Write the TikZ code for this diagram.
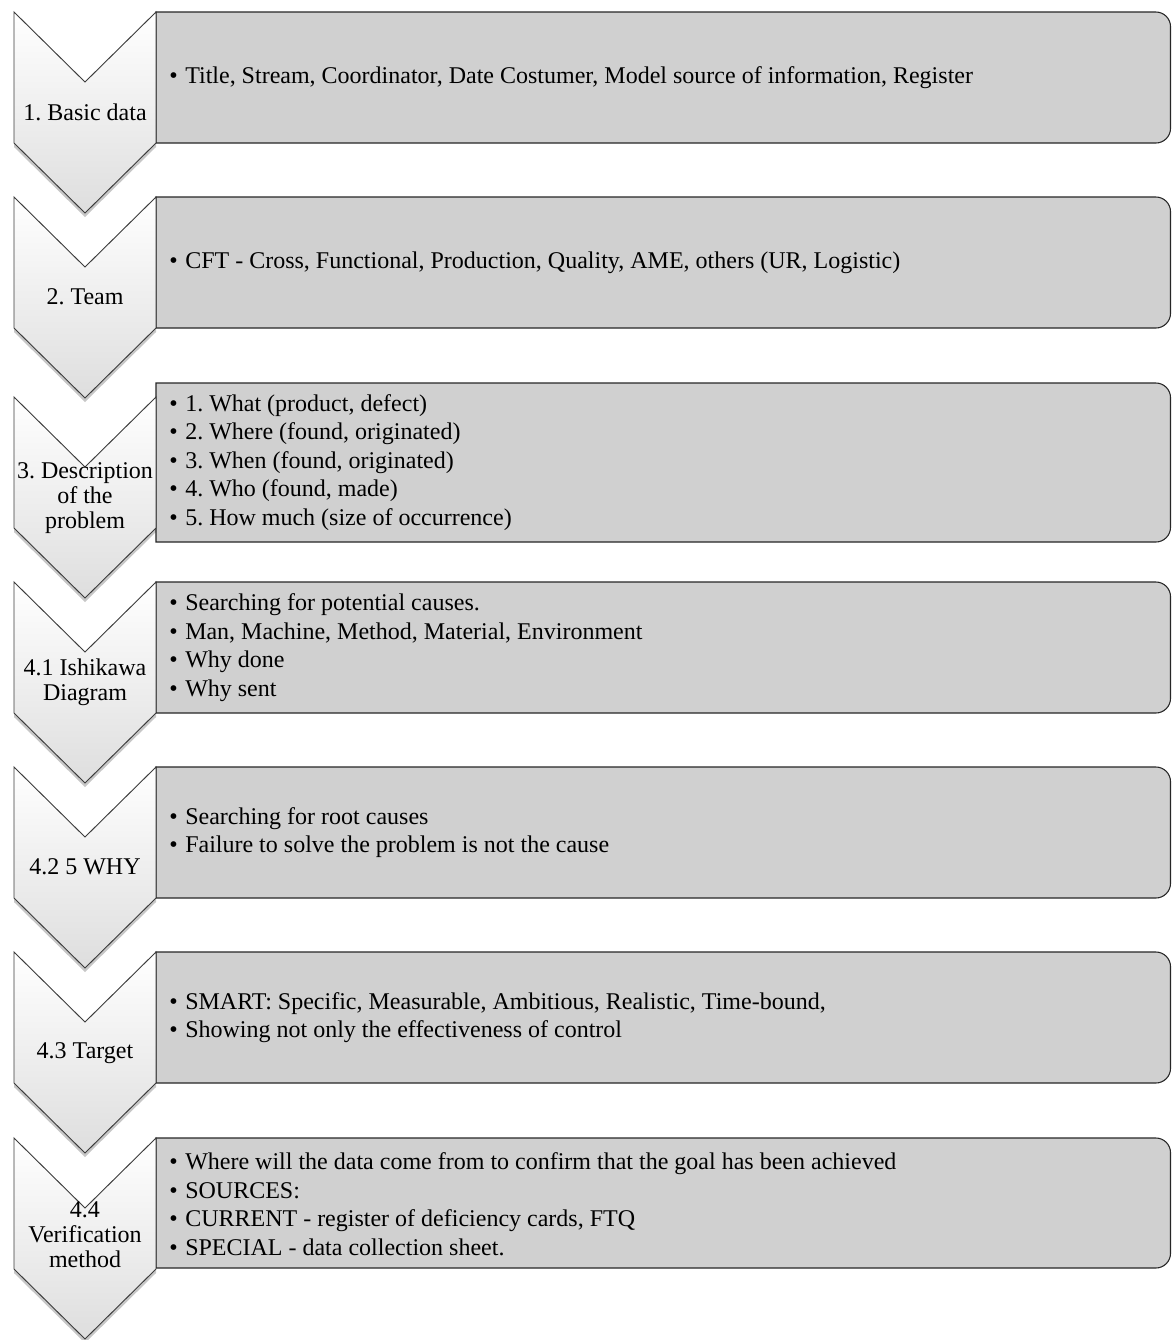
\documentclass[tikz,border=0pt]{standalone}
\usepackage{fontspec}
\setmainfont{Liberation Serif}
\usepackage{tikz}
\usetikzlibrary{positioning,shadows}
\definecolor{boxgray}{RGB}{208,208,208}
\definecolor{edgegray}{RGB}{60,60,60}
\newcommand{\boxfont}{\fontsize{18pt}{21.4pt}\selectfont}
\newcommand{\labfont}{\fontsize{18pt}{18.8pt}\selectfont}
\newcommand{\bitem}{\makebox[12pt][l]{\textbullet}}
\frenchspacing
\tikzset{
  chevron/.style={draw=edgegray, line width=0.7pt, top color=white,
                  bottom color=black!13,
                  drop shadow={shadow xshift=0pt, shadow yshift=-3pt,
                               opacity=.22, fill=black}},
  infobox/.style={draw=black!85, line width=0.8pt, fill=boxgray},
  steplabel/.style={align=center, inner sep=0pt, font=\labfont},
  bullets/.style={anchor=west, align=left, inner sep=0pt, font=\boxfont},
}

\begin{document}
\begin{tikzpicture}[x=0.75pt, y=-0.75pt]
  \useasboundingbox (0,0) rectangle (1172,1340);
  % boxes first, chevrons over them
  \foreach \n/\ct/\bt/\bb in {1/12/12/143, 2/197/197/328, 3/397/383/542,
      4/582/582/713, 5/767/767/898, 6/952/952/1083, 7/1138/1138/1268} {
    \draw[infobox] (156,\bt) [rounded corners=11pt] -- (1170.5,\bt)
      -- (1170.5,\bb) [sharp corners] -- (156,\bb) -- cycle;
    \draw[chevron] (14,\ct) -- (85,{\ct+70}) -- (156,\ct) -- (156,{\ct+131})
      -- (85,{\ct+201}) -- (14,{\ct+131}) -- cycle;
  }
  % step names
  \node[steplabel] (lab1) at (85,112) {1. Basic data};
  \node[steplabel] (lab2) at (85,297) {2. Team};
  \node[steplabel] (lab3) at (85,498) {3. Description\\of the\\problem};
  \node[steplabel] (lab4) at (85,682) {4.1 Ishikawa\\Diagram};
  \node[steplabel] (lab5) at (85,867) {4.2 5 WHY};
  \node[steplabel] (lab6) at (85,1053) {4.3 Target};
  \node[steplabel] (lab7) at (85,1235) {4.4\\Verification\\method};
  % bullet texts
  \node[bullets] (txt1) at (169,77.5)
    {\bitem Title, Stream, Coordinator, Date Costumer, Model source of information, Register};
  \node[bullets] (txt2) at (169,262.5)
    {\bitem CFT - Cross, Functional, Production, Quality, AME, others (UR, Logistic)};
  \node[bullets] (txt3) at (169,462.5)
    {\bitem 1. What (product, defect)\\
     \bitem 2. Where (found, originated)\\
     \bitem 3. When (found, originated)\\
     \bitem 4. Who (found, made)\\
     \bitem 5. How much (size of occurrence)};
  \node[bullets] (txt4) at (169,647.5)
    {\bitem Searching for potential causes.\\
     \bitem Man, Machine, Method, Material, Environment\\
     \bitem Why done\\
     \bitem Why sent};
  \node[bullets] (txt5) at (169,832.5)
    {\bitem Searching for root causes\\
     \bitem Failure to solve the problem is not the cause};
  \node[bullets] (txt6) at (169,1017.5)
    {\bitem SMART: Specific, Measurable, Ambitious, Realistic, Time-bound,\\
     \bitem Showing not only the effectiveness of control};
  \node[bullets] (txt7) at (169,1204)
    {\bitem Where will the data come from to confirm that the goal has been achieved\\
     \bitem SOURCES:\\
     \bitem CURRENT - register of deficiency cards, FTQ\\
     \bitem SPECIAL - data collection sheet.};
\end{tikzpicture}
\end{document}
